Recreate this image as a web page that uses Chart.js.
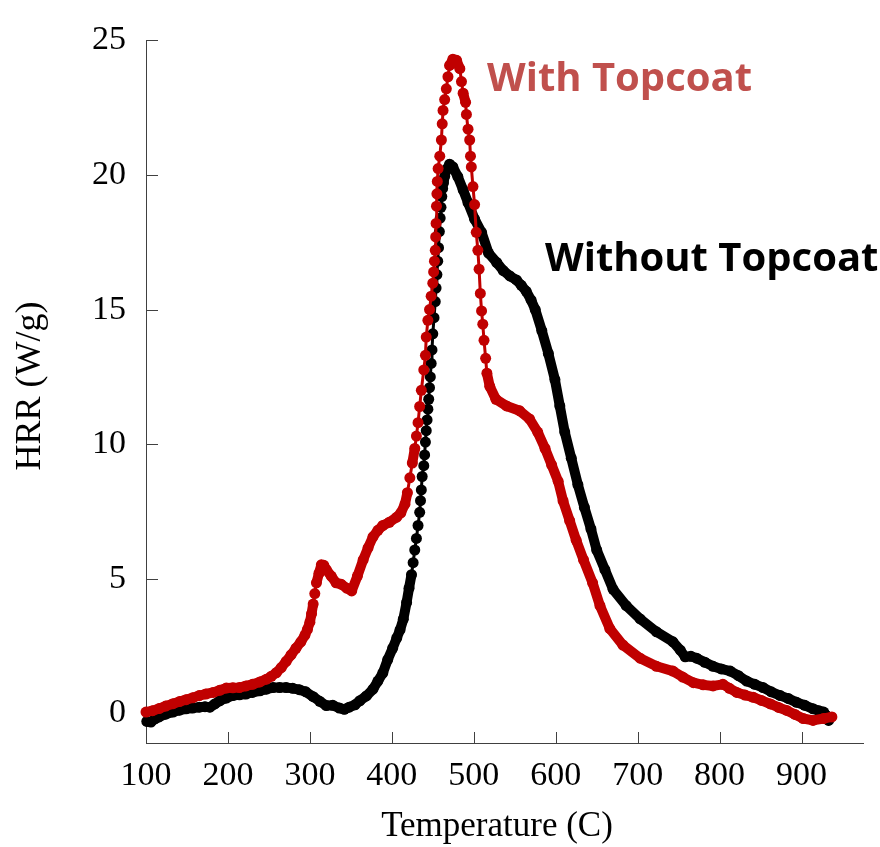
<!DOCTYPE html>
<html>
<head>
<meta charset="utf-8">
<script src="https://cdn.jsdelivr.net/npm/chart.js@4.4.0/dist/chart.umd.min.js"></script>
<style>
  html, body { margin: 0; padding: 0; background: #fff; }
  #wrap { position: relative; width: 880px; height: 847px; }
</style>
</head>
<body>
<div id="wrap"><canvas id="hrr"></canvas></div>
<script>
// HRR curves: temperature (C) and heat release rate (W/g)
const tempWith = [
  100, 108, 116, 124, 133, 141, 149, 157, 165, 173,
  182, 190, 198, 206, 214, 222, 230, 239, 247, 253,
  259, 265, 271, 277, 283, 289, 294, 297, 300, 302,
  304, 306, 308, 311, 314, 317, 320, 326, 332, 338,
  345, 351, 358, 365, 371, 377, 383, 389, 397, 406,
  411, 416, 419, 422, 425, 428, 430, 432, 434, 436,
  439, 441, 442, 444, 446, 448, 450, 451, 452, 453,
  453.5, 454, 454.5, 455, 455.5, 456.5, 458.5, 460.5, 461.5, 462.5,
  464.5, 466.5, 468.5, 470.5, 474.5, 479, 483, 485, 487, 490,
  491, 493, 495, 496, 497, 499, 501, 503, 505, 506.5,
  508, 509.5, 511, 512.5, 514.5, 516, 519.5, 527, 540, 556,
  568, 578, 587, 595, 603, 609, 617, 625, 634, 645,
  654, 666, 682, 703, 723, 743, 755, 768, 780, 792,
  804, 812, 821, 831, 841, 851, 862, 872, 882, 892,
  902, 914, 927, 937
]
const hrrWith = [
  0.05, 0.1, 0.18, 0.27, 0.36, 0.44, 0.51, 0.58, 0.66, 0.72,
  0.78, 0.86, 0.94, 0.95, 0.96, 1.02, 1.08, 1.17, 1.27, 1.38,
  1.51, 1.7, 1.93, 2.17, 2.42, 2.66, 2.91, 3.12, 3.39, 3.7,
  4.06, 4.45, 4.85, 5.2, 5.52, 5.5, 5.34, 5.1, 4.85, 4.8,
  4.65, 4.55, 5.1, 5.7, 6.15, 6.56, 6.8, 6.98, 7.1, 7.29,
  7.45, 7.77, 8.2, 8.75, 9.3, 9.84, 10.3, 10.8, 11.4, 12.0,
  12.76, 13.3, 13.98, 14.6, 15.0, 15.5, 15.98, 16.4, 16.8, 17.2,
  17.7, 18.2, 18.84, 19.3, 19.76, 20.24, 20.7, 21.3, 21.9, 22.4,
  22.8, 23.2, 23.65, 24.07, 24.3, 24.26, 23.95, 23.47, 23.04, 22.7,
  22.25, 21.7, 21.3, 20.7, 20.3, 19.57, 18.9, 17.87, 17.2, 16.5,
  15.6, 14.95, 14.46, 13.86, 13.19, 12.64, 12.15, 11.67, 11.42, 11.24,
  10.94, 10.45, 9.84, 9.23, 8.62, 7.89, 7.16, 6.43, 5.7, 4.85,
  4.0, 3.15, 2.54, 2.05, 1.75, 1.57, 1.35, 1.14, 1.06, 1.02,
  1.08, 0.93, 0.78, 0.68, 0.6, 0.48, 0.35, 0.22, 0.11, -0.04,
  -0.19, -0.26, -0.19, -0.13
]
const tempWithout = [
  101, 106, 111, 116, 124, 133, 141, 149, 157, 165,
  172, 178, 184, 190, 198, 206, 214, 222, 230, 239,
  247, 255, 263, 271, 279, 287, 295, 304, 312, 320,
  328, 336, 342, 348, 355, 361, 369, 377, 383, 389,
  395, 401, 406, 410, 414, 418, 421, 424, 426, 428,
  430, 432, 434, 435, 436, 437, 439, 440, 441, 442,
  443, 444, 445, 446, 447, 448, 449, 450, 451.5, 453,
  454, 455, 456, 457, 458, 459, 460, 461, 462, 463,
  464.5, 466.5, 470.5, 474.5, 480.5, 487, 493, 501, 509.5, 518,
  528, 536, 544, 552, 558, 564, 570, 575, 583, 591,
  599, 605, 611, 619, 627, 635, 643, 650, 660, 670,
  686, 703, 723, 743, 752, 758, 765, 772, 782, 792,
  802, 813, 823, 833, 843, 853, 863, 874, 884, 894,
  904, 914, 921, 927, 931, 933
]
const hrrWithout = [
  -0.3, -0.32, -0.2, -0.13, -0.03, 0.05, 0.12, 0.17, 0.2, 0.23,
  0.25, 0.23, 0.35, 0.47, 0.57, 0.66, 0.69, 0.72, 0.78, 0.84,
  0.9, 0.96, 0.96, 0.96, 0.93, 0.88, 0.8, 0.62, 0.45, 0.29,
  0.3, 0.2, 0.15, 0.23, 0.32, 0.47, 0.65, 0.9, 1.2, 1.5,
  2.0, 2.42, 2.8, 3.1, 3.5, 4.12, 4.65, 5.15, 5.6, 6.07,
  6.5, 6.98, 7.47, 7.9, 8.3, 8.8, 9.2, 9.6, 10.08, 10.5,
  10.9, 11.3, 11.67, 12.1, 12.5, 13.0, 13.5, 14.1, 14.7, 15.3,
  15.8, 16.3, 16.8, 17.3, 17.9, 18.4, 18.8, 19.2, 19.5, 19.7,
  19.95, 20.2, 20.4, 20.3, 19.94, 19.45, 18.97, 18.36, 17.87, 17.1,
  16.75, 16.45, 16.25, 16.1, 15.9, 15.68, 15.35, 15.0, 14.22, 13.37,
  12.4, 11.42, 10.45, 9.48, 8.5, 7.65, 6.85, 6.07, 5.34, 4.61,
  4.0, 3.51, 3.03, 2.66, 2.35, 2.1, 2.12, 2.05, 1.9, 1.75,
  1.65, 1.57, 1.4, 1.2, 1.08, 0.96, 0.8, 0.66, 0.55, 0.41,
  0.3, 0.17, 0.1, 0.05, -0.1, -0.26
]
const xTicks = [100, 200, 300, 400, 500, 600, 700, 800, 900]
const yTicks = [0, 5, 10, 15, 20, 25]
const seriesNames = ['With Topcoat', 'Without Topcoat']

const serif = "'Liberation Serif', 'Times New Roman', serif"
const toPoints = (xs, ys) => xs.map((x, i) => ({ x: x, y: ys[i] }))

// steep parts look like a chain of dots, flat parts like a thick band
const segWidth = ctx => {
  const dx = Math.abs(ctx.p1.x - ctx.p0.x)
  const dy = Math.abs(ctx.p1.y - ctx.p0.y)
  return dy > 6 * dx ? 3 : 10
}

const makeSeries = (label, xs, ys, color) => ({
  label: label,
  data: toPoints(xs, ys),
  showLine: true,
  borderColor: color,
  backgroundColor: color,
  borderWidth: 10,
  borderCapStyle: 'round',
  borderJoinStyle: 'round',
  pointRadius: 5.5,
  pointHoverRadius: 5.5,
  pointBorderWidth: 0,
  clip: false,
  segment: { borderWidth: segWidth }
})

// ticks pointing into the plot, axis titles and curve labels
const decorations = {
  id: 'decorations',
  beforeDatasetsDraw(chart) {
    const { ctx, chartArea, scales } = chart
    ctx.save()
    ctx.strokeStyle = '#404040'
    ctx.lineWidth = 1
    ctx.beginPath()
    xTicks.forEach(v => {
      const px = Math.round(scales.x.getPixelForValue(v)) + 0.5
      ctx.moveTo(px, chartArea.bottom)
      ctx.lineTo(px, chartArea.bottom - 11)
    })
    yTicks.forEach(v => {
      const py = Math.round(scales.y.getPixelForValue(v)) + 0.5
      ctx.moveTo(chartArea.left, py)
      ctx.lineTo(chartArea.left + 12, py)
    })
    ctx.stroke()
    ctx.restore()
  },
  afterDraw(chart) {
    const { ctx } = chart
    ctx.save()
    ctx.fillStyle = '#000'
    ctx.font = '35px ' + serif
    ctx.textAlign = 'center'
    ctx.textBaseline = 'alphabetic'
    ctx.fillText('Temperature (C)', 497, 836)
    ctx.translate(40, 386)
    ctx.rotate(-Math.PI / 2)
    ctx.font = '36px ' + serif
    ctx.fillText('HRR (W/g)', 0, 0)
    ctx.restore()

    ctx.save()
    ctx.font = "bold 40px 'Open Sans', sans-serif"
    ctx.textAlign = 'left'
    ctx.textBaseline = 'alphabetic'
    ctx.fillStyle = '#C0504D'
    ctx.fillText(seriesNames[0], 487, 91)
    ctx.fillStyle = '#000'
    ctx.fillText(seriesNames[1], 545, 271)
    ctx.restore()
  }
}

new Chart(document.getElementById('hrr'), {
  type: 'scatter',
  data: {
    datasets: [
      makeSeries(seriesNames[0], tempWith, hrrWith, '#C00000'),
      makeSeries(seriesNames[1], tempWithout, hrrWithout, '#000000')
    ]
  },
  options: {
    responsive: true,
    maintainAspectRatio: false,
    animation: false,
    layout: { padding: { top: 28, right: 17, left: 0, bottom: 0 } },
    plugins: {
      legend: { display: false },
      tooltip: { enabled: false }
    },
    scales: {
      x: {
        type: 'linear',
        min: 100,
        max: 975,
        afterBuildTicks: s => { s.ticks = xTicks.map(v => ({ value: v })) },
        afterFit: s => { s.height = 104 },
        grid: { display: true, drawOnChartArea: false, drawTicks: false },
        border: { display: true, color: '#404040', width: 1 },
        ticks: { color: '#000', padding: 13, maxRotation: 0, autoSkip: false,
          font: { family: serif, size: 34 } }
      },
      y: {
        type: 'linear',
        min: -1.1,
        max: 25,
        afterBuildTicks: s => { s.ticks = yTicks.map(v => ({ value: v })) },
        afterFit: s => { s.width = 146 },
        grid: { display: true, drawOnChartArea: false, drawTicks: false },
        border: { display: true, color: '#404040', width: 1 },
        ticks: { color: '#000', padding: 20,
          font: { family: serif, size: 34 } }
      }
    }
  },
  plugins: [decorations]
})
</script>
</body>
</html>
